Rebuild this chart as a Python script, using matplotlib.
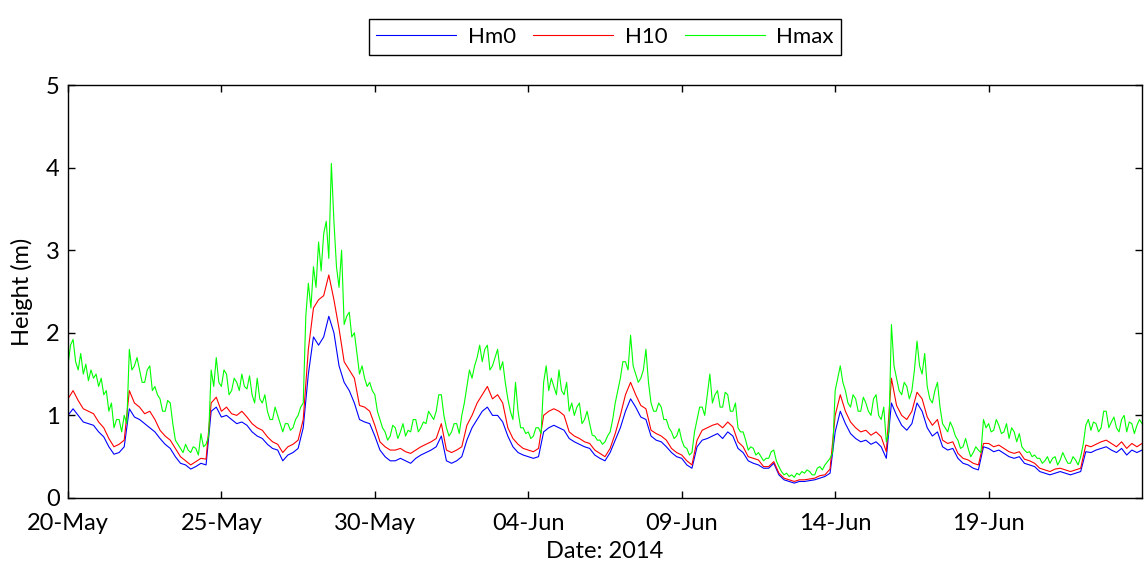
import pandas as pd
import matplotlib.pyplot as plt
import matplotlib.dates as mdates

plt.rcParams['font.family'] = ['Lato', 'DejaVu Sans']

# wave heights (m), one row per day, 4-hourly from 20-May-2014 00:00
hm0 = [
    1.00, 1.08, 1.00, 0.92, 0.90, 0.88,
    0.80, 0.74, 0.62, 0.53, 0.55, 0.62,
    1.08, 0.98, 0.95, 0.90, 0.85, 0.80,
    0.72, 0.65, 0.60, 0.50, 0.42, 0.40,
    0.35, 0.38, 0.42, 0.40, 1.05, 1.10,
    0.98, 1.00, 0.95, 0.90, 0.92, 0.88,
    0.80, 0.75, 0.72, 0.65, 0.60, 0.58,
    0.45, 0.52, 0.55, 0.60, 0.85, 1.50,
    1.95, 1.85, 1.95, 2.20, 2.00, 1.60,
    1.40, 1.30, 1.15, 0.95, 0.92, 0.90,
    0.75, 0.58, 0.50, 0.45, 0.45, 0.48,
    0.45, 0.42, 0.48, 0.52, 0.55, 0.58,
    0.62, 0.75, 0.45, 0.42, 0.45, 0.50,
    0.70, 0.85, 0.95, 1.05, 1.10, 1.00,
    1.00, 0.92, 0.75, 0.62, 0.55, 0.52,
    0.50, 0.48, 0.50, 0.80, 0.85, 0.88,
    0.85, 0.82, 0.72, 0.68, 0.65, 0.62,
    0.60, 0.52, 0.48, 0.45, 0.55, 0.70,
    0.85, 1.05, 1.20, 1.10, 0.98, 0.95,
    0.75, 0.70, 0.68, 0.62, 0.55, 0.50,
    0.48, 0.40, 0.36, 0.62, 0.70, 0.72,
    0.75, 0.78, 0.72, 0.80, 0.75, 0.60,
    0.55, 0.45, 0.42, 0.40, 0.36, 0.36,
    0.42, 0.28, 0.22, 0.20, 0.18, 0.20,
    0.20, 0.21, 0.22, 0.24, 0.26, 0.30,
    0.80, 1.05, 0.90, 0.78, 0.72, 0.68,
    0.70, 0.65, 0.68, 0.62, 0.48, 1.15,
    1.00, 0.88, 0.82, 0.90, 1.15, 1.05,
    0.85, 0.75, 0.80, 0.62, 0.58, 0.60,
    0.48, 0.42, 0.40, 0.36, 0.34, 0.62,
    0.60, 0.56, 0.58, 0.54, 0.50, 0.48,
    0.50, 0.42, 0.40, 0.38, 0.32, 0.30,
    0.28, 0.30, 0.32, 0.30, 0.28, 0.30,
    0.32, 0.56, 0.55, 0.58, 0.60, 0.62,
    0.58, 0.55, 0.60, 0.52, 0.58, 0.55,
    0.58,
]
h10 = [
    1.20, 1.30, 1.18, 1.08, 1.05, 1.02,
    0.92, 0.85, 0.72, 0.62, 0.65, 0.70,
    1.30, 1.15, 1.10, 1.02, 1.05, 0.95,
    0.82, 0.75, 0.70, 0.60, 0.50, 0.45,
    0.40, 0.44, 0.48, 0.47, 1.15, 1.22,
    1.05, 1.10, 1.02, 1.00, 1.05, 0.98,
    0.90, 0.85, 0.82, 0.74, 0.68, 0.65,
    0.55, 0.62, 0.65, 0.70, 0.95, 1.80,
    2.30, 2.40, 2.45, 2.70, 2.40, 2.05,
    1.65, 1.55, 1.45, 1.12, 1.10, 1.05,
    0.88, 0.68, 0.62, 0.58, 0.58, 0.60,
    0.56, 0.54, 0.58, 0.62, 0.65, 0.68,
    0.72, 0.90, 0.58, 0.55, 0.58, 0.62,
    0.88, 1.00, 1.15, 1.25, 1.35, 1.20,
    1.25, 1.15, 0.85, 0.72, 0.65, 0.60,
    0.58, 0.56, 0.60, 1.00, 1.05, 1.08,
    1.05, 1.00, 0.80, 0.75, 0.72, 0.68,
    0.66, 0.58, 0.54, 0.50, 0.60, 0.78,
    1.00, 1.25, 1.40, 1.25, 1.12, 1.08,
    0.82, 0.78, 0.75, 0.70, 0.60, 0.55,
    0.52, 0.45, 0.40, 0.70, 0.82, 0.85,
    0.88, 0.90, 0.85, 0.92, 0.86, 0.68,
    0.62, 0.50, 0.48, 0.46, 0.38, 0.38,
    0.44, 0.30, 0.24, 0.22, 0.20, 0.22,
    0.22, 0.23, 0.24, 0.27, 0.28, 0.35,
    1.00, 1.25, 1.05, 0.92, 0.85, 0.80,
    0.82, 0.76, 0.80, 0.74, 0.56, 1.45,
    1.12, 1.00, 0.95, 1.05, 1.28, 1.20,
    0.98, 0.88, 0.95, 0.70, 0.66, 0.68,
    0.54, 0.48, 0.46, 0.42, 0.40, 0.66,
    0.66, 0.62, 0.64, 0.60, 0.56, 0.54,
    0.56, 0.47, 0.45, 0.42, 0.36, 0.34,
    0.32, 0.35, 0.36, 0.34, 0.32, 0.34,
    0.36, 0.64, 0.62, 0.65, 0.68, 0.70,
    0.66, 0.62, 0.68, 0.60, 0.66, 0.62,
    0.66,
]
# Hmax, 2-hourly
hmax = [
    1.60, 1.85, 1.92, 1.65, 1.55, 1.75, 1.50, 1.62, 1.42, 1.55, 1.45, 1.50,
    1.35, 1.45, 1.25, 1.30, 1.05, 1.15, 0.85, 0.95, 0.95, 0.80, 1.00, 0.90,
    1.80, 1.55, 1.60, 1.70, 1.55, 1.40, 1.40, 1.55, 1.60, 1.30, 1.35, 1.25,
    1.20, 1.05, 1.05, 1.18, 1.15, 0.90, 0.70, 0.65, 0.60, 0.55, 0.65, 0.58,
    0.55, 0.62, 0.60, 0.52, 0.78, 0.62, 0.65, 0.75, 1.55, 1.35, 1.70, 1.40,
    1.35, 1.55, 1.50, 1.25, 1.30, 1.45, 1.40, 1.30, 1.50, 1.35, 1.32, 1.48,
    1.25, 1.15, 1.45, 1.20, 1.15, 1.25, 1.05, 0.95, 0.95, 1.10, 1.00, 0.90,
    0.80, 0.90, 0.90, 0.82, 0.85, 0.95, 1.00, 1.10, 1.15, 2.20, 2.60, 2.30,
    2.80, 2.55, 3.10, 2.75, 3.20, 3.35, 2.90, 4.05, 3.35, 2.80, 2.55, 3.00,
    2.10, 2.20, 2.25, 1.95, 2.00, 1.75, 1.50, 1.60, 1.45, 1.35, 1.40, 1.30,
    1.25, 1.05, 0.95, 0.85, 0.80, 0.70, 0.75, 0.88, 0.85, 0.72, 0.80, 0.90,
    0.75, 0.82, 0.80, 0.95, 0.95, 0.80, 0.85, 0.92, 0.90, 1.05, 1.00, 0.95,
    1.05, 1.25, 1.25, 1.00, 0.85, 0.75, 0.80, 0.90, 0.90, 0.78, 1.00, 1.15,
    1.35, 1.55, 1.45, 1.60, 1.70, 1.85, 1.65, 1.80, 1.85, 1.55, 1.60, 1.70,
    1.80, 1.55, 1.65, 1.40, 1.20, 1.05, 0.95, 1.40, 1.05, 0.85, 0.85, 0.78,
    0.80, 0.72, 0.75, 0.85, 0.85, 0.78, 1.40, 1.60, 1.30, 1.45, 1.35, 1.25,
    1.55, 1.30, 1.25, 1.40, 1.05, 1.15, 1.00, 1.10, 1.15, 0.90, 0.95, 1.05,
    0.90, 0.76, 0.75, 0.70, 0.70, 0.65, 0.68, 0.75, 0.80, 0.95, 1.15, 1.30,
    1.45, 1.65, 1.65, 1.55, 1.97, 1.60, 1.50, 1.40, 1.45, 1.55, 1.80, 1.40,
    1.15, 1.05, 1.05, 1.15, 1.10, 0.95, 0.95, 0.85, 0.80, 0.72, 0.75, 0.84,
    0.70, 0.62, 0.60, 0.52, 0.55, 0.80, 0.95, 1.10, 1.10, 1.00, 1.25, 1.50,
    1.15, 1.25, 1.30, 1.10, 1.10, 1.28, 1.25, 1.05, 1.05, 1.15, 0.85, 0.80,
    0.80, 0.70, 0.58, 0.62, 0.60, 0.52, 0.55, 0.50, 0.45, 0.48, 0.48, 0.56,
    0.58, 0.45, 0.38, 0.32, 0.28, 0.30, 0.26, 0.28, 0.25, 0.30, 0.28, 0.32,
    0.30, 0.34, 0.32, 0.28, 0.28, 0.36, 0.38, 0.34, 0.40, 0.44, 0.48, 0.55,
    1.30, 1.45, 1.60, 1.40, 1.30, 1.15, 1.10, 1.25, 1.20, 1.05, 1.05, 1.22,
    1.15, 1.05, 1.00, 1.20, 1.25, 1.00, 0.95, 1.10, 0.68, 0.80, 2.10, 1.60,
    1.45, 1.30, 1.25, 1.40, 1.35, 1.20, 1.30, 1.55, 1.90, 1.60, 1.50, 1.75,
    1.35, 1.20, 1.15, 1.30, 1.40, 1.10, 0.90, 0.85, 0.80, 0.92, 0.85, 0.75,
    0.70, 0.60, 0.62, 0.72, 0.60, 0.50, 0.55, 0.62, 0.58, 0.55, 0.95, 0.85,
    0.90, 0.80, 0.82, 0.95, 0.88, 0.78, 0.80, 0.90, 0.72, 0.85, 0.80, 0.68,
    0.78, 0.62, 0.58, 0.55, 0.56, 0.50, 0.52, 0.48, 0.48, 0.42, 0.45, 0.50,
    0.42, 0.48, 0.50, 0.40, 0.46, 0.55, 0.48, 0.42, 0.42, 0.50, 0.46, 0.40,
    0.50, 0.65, 0.88, 0.95, 0.82, 0.92, 0.90, 0.80, 0.85, 1.05, 1.05, 0.85,
    0.92, 0.98, 0.85, 0.80, 0.95, 1.00, 0.80, 0.92, 0.90, 0.78, 0.88, 0.95,
    0.90,
]

t4 = pd.date_range('2014-05-20 00:00', periods=len(hm0), freq='4h')
t2 = pd.date_range('2014-05-20 00:00', periods=len(hmax), freq='2h')

fig = plt.figure(figsize=(11.44, 5.63), dpi=100)
ax = fig.add_axes([0.0594, 0.1155, 0.9389, 0.7335])

ax.plot(t4, hm0, color='#0000ff', lw=0.8, label='Hm0')
ax.plot(t4, h10, color='#ff0000', lw=0.8, label='H10')
ax.plot(t2, hmax, color='#00ff00', lw=0.8, label='Hmax')

ax.set_xlim(pd.Timestamp('2014-05-20 00:00'), pd.Timestamp('2014-06-24 00:00'))
ax.set_ylim(0, 5)
ax.set_yticks([0, 1, 2, 3, 4, 5])
ax.set_xticks(pd.date_range('2014-05-20', '2014-06-19', freq='5D'))
ax.xaxis.set_major_formatter(mdates.DateFormatter('%d-%b'))

ax.tick_params(direction='in', top=True, right=True, length=5, width=1,
               labelsize=17)
ax.tick_params(axis='x', pad=11)
ax.tick_params(axis='y', pad=6)
for s in ax.spines.values():
    s.set_linewidth(1.0)

ax.set_xlabel('Date: 2014', fontsize=17, labelpad=5)
ax.set_ylabel('Height (m)', fontsize=17, labelpad=9)

leg = ax.legend(loc='center', ncol=3, bbox_to_anchor=(605/1144, 1 - 37/563),
                bbox_transform=fig.transFigure, fontsize=16, frameon=True,
                fancybox=False, framealpha=1, edgecolor='black',
                handlelength=3.6, handletextpad=0.5, columnspacing=0.8,
                borderpad=0.35)
leg.get_frame().set_linewidth(1.0)

fig.savefig('out.png', dpi=100)
